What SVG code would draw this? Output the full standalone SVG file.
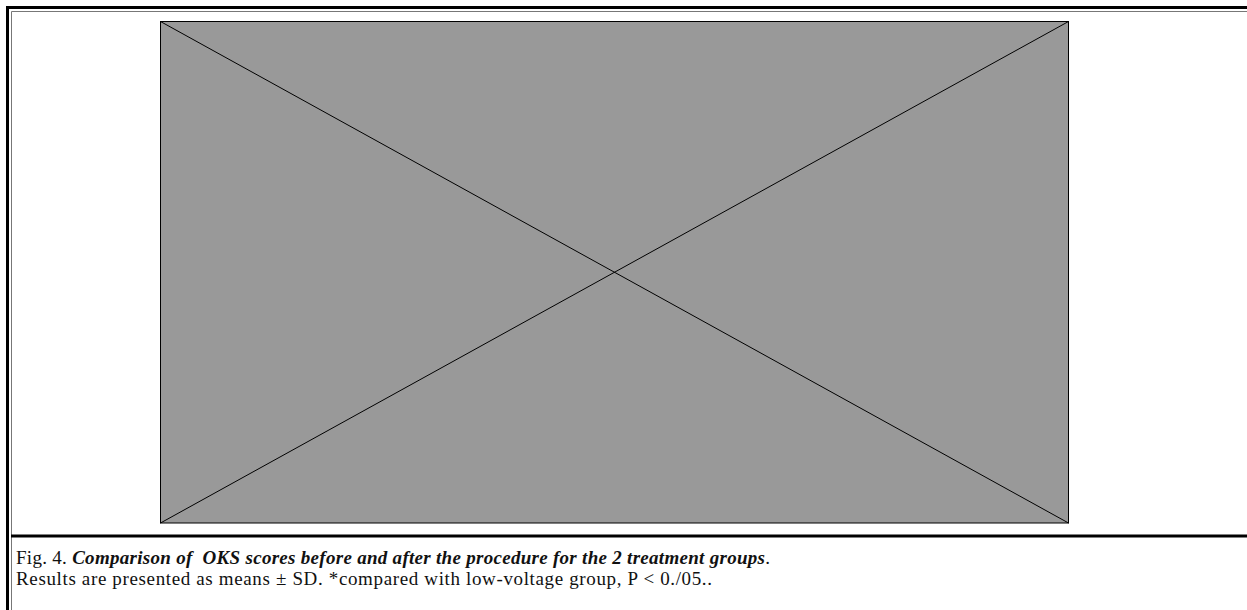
<svg xmlns="http://www.w3.org/2000/svg" width="1247" height="610" viewBox="0 0 1247 610">
<style>
.cap{font-family:"Liberation Serif","Times New Roman",serif;font-size:19px;fill:#111}
.it{font-style:italic;font-weight:bold}
</style>
<rect x="0" y="0" width="1247" height="610" fill="#fff"/>
<g id="frame" fill="none">
<path d="M7.5,610 V7.5 H1247" stroke="#000" stroke-width="3"/>
<path d="M11.5,610 V11.5 H1247" stroke="#777" stroke-width="1"/>
<line x1="11" y1="536" x2="1247" y2="536" stroke="#000" stroke-width="3"/>
</g>
<g id="placeholder">
<rect x="160.5" y="21.5" width="908" height="501.5" fill="#999" stroke="#000" stroke-width="1"/>
<line x1="160.5" y1="21.5" x2="1068.5" y2="523" stroke="#000" stroke-width="1"/>
<line x1="1068.5" y1="21.5" x2="160.5" y2="523" stroke="#000" stroke-width="1"/>
</g>
<g id="caption" class="cap">
<text x="16" y="564" textLength="754" lengthAdjust="spacing">Fig. 4. <tspan class="it">Comparison of&#160; OKS scores before and after the procedure for the 2 treatment groups</tspan>.</text>
<text x="16" y="585" textLength="696" lengthAdjust="spacing">Results are presented as means ± SD. *compared with low-voltage group, P &lt; 0./05..</text>
</g>
</svg>
